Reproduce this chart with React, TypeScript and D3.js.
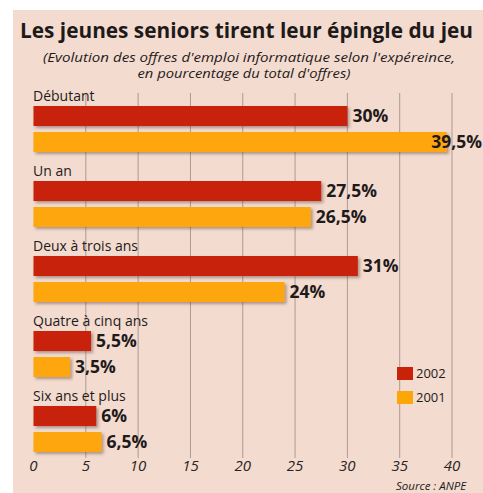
import React from "react";
import * as d3 from "d3";

const categories = ["Débutant", "Un an", "Deux à trois ans", "Quatre à cinq ans", "Six ans et plus"];
const values2002 = [30, 27.5, 31, 5.5, 6];
const values2001 = [39.5, 26.5, 24, 3.5, 6.5];
const labels2002 = ["30%", "27,5%", "31%", "5,5%", "6%"];
const labels2001 = ["39,5%", "26,5%", "24%", "3,5%", "6,5%"];
const xTicks = [0, 5, 10, 15, 20, 25, 30, 35, 40];
const seriesNames = ["2002", "2001"];

const W = 483;
const H = 493;
const RED = "#c82209";
const ORANGE = "#fda608";
const BG = "#f3dbcf";
const TEXT = "#1f1a1a";
const FONT = "'Open Sans', 'DejaVu Sans', sans-serif";

export default function App() {
  const x = d3.scaleLinear().domain([0, 40]).range([33.5, 452]);
  const y = d3.scaleBand<string>().domain(categories).range([85, 460]).paddingInner(0).paddingOuter(0);
  const barH = 20;
  const gridTop = 93;
  const gridBottom = 458;

  return (
    <svg
      width={W}
      height={H}
      style={{ position: "absolute", left: 0, top: 0, display: "block" }}
      fontFamily={FONT}
    >
      <defs>
        <filter id="sh" x="-5%" y="-30%" width="115%" height="180%">
          <feDropShadow dx="2" dy="2" stdDeviation="1.8" floodColor="#5a3a30" floodOpacity="0.45" />
        </filter>
      </defs>
      <rect x={0} y={0} width={W} height={H} fill="#ffffff" />
      <rect x={13} y={10} width={W - 13} height={H - 10} fill={BG} />

      {/* title */}
      <text x={20} y={38} fontSize={21} fontWeight={700} fill={TEXT} textLength={453} lengthAdjust="spacingAndGlyphs">
        Les jeunes seniors tirent leur épingle du jeu
      </text>
      <text x={249} y={62} fontSize={12} fontStyle="italic" fill={TEXT} textAnchor="middle" textLength={412} lengthAdjust="spacingAndGlyphs">
        (Evolution des offres d'emploi informatique selon l'expéreince,
      </text>
      <text x={244} y={78} fontSize={12} fontStyle="italic" fill={TEXT} textAnchor="middle" textLength={213} lengthAdjust="spacingAndGlyphs">
        en pourcentage du total d'offres)
      </text>

      {/* gridlines */}
      {xTicks.map((t) => (
        <line key={"g" + t} x1={x(t)} x2={x(t)} y1={gridTop} y2={gridBottom} stroke="#a8928a" strokeWidth={1} opacity={t === 0 ? 0 : 0.9} />
      ))}

      {/* bars */}
      {categories.map((c, i) => {
        const y0 = y(c)!;
        const r0 = y0 + 21;
        const o0 = y0 + 47;
        return (
          <g key={c}>
            <text x={33} y={y0 + 16} fontSize={14} fill={TEXT}>
              {c}
            </text>
            <rect x={x(0)} y={r0} width={x(values2002[i]) - x(0)} height={barH} fill={RED} filter="url(#sh)" />
            <rect x={x(0)} y={o0} width={x(values2001[i]) - x(0)} height={barH} fill={ORANGE} filter="url(#sh)" />
            <text x={x(values2002[i]) + 5} y={r0 + 16} fontSize={17.5} fontWeight={700} fill={TEXT}>
              {labels2002[i]}
            </text>
            {x(values2001[i]) + 62 > W ? (
              <text x={482} y={o0 + 16} fontSize={17.5} fontWeight={700} fill={TEXT} textAnchor="end">
                {labels2001[i]}
              </text>
            ) : (
              <text x={x(values2001[i]) + 5} y={o0 + 16} fontSize={17.5} fontWeight={700} fill={TEXT}>
                {labels2001[i]}
              </text>
            )}
          </g>
        );
      })}

      {/* x tick labels */}
      {xTicks.map((t) => (
        <text key={"t" + t} x={x(t)} y={471} fontSize={15} fontStyle="italic" fill="#2a2424" textAnchor="middle">
          {t}
        </text>
      ))}

      {/* legend */}
      {seriesNames.map((s, i) => (
        <g key={s}>
          <rect x={397} y={367 + i * 24} width={16} height={13} fill={i === 0 ? RED : ORANGE} />
          <text x={416} y={378 + i * 24} fontSize={13} fill={TEXT}>
            {s}
          </text>
        </g>
      ))}

      <text x={396} y={490} fontSize={11.5} fontStyle="italic" fill={TEXT}>
        Source : ANPE
      </text>
    </svg>
  );
}
